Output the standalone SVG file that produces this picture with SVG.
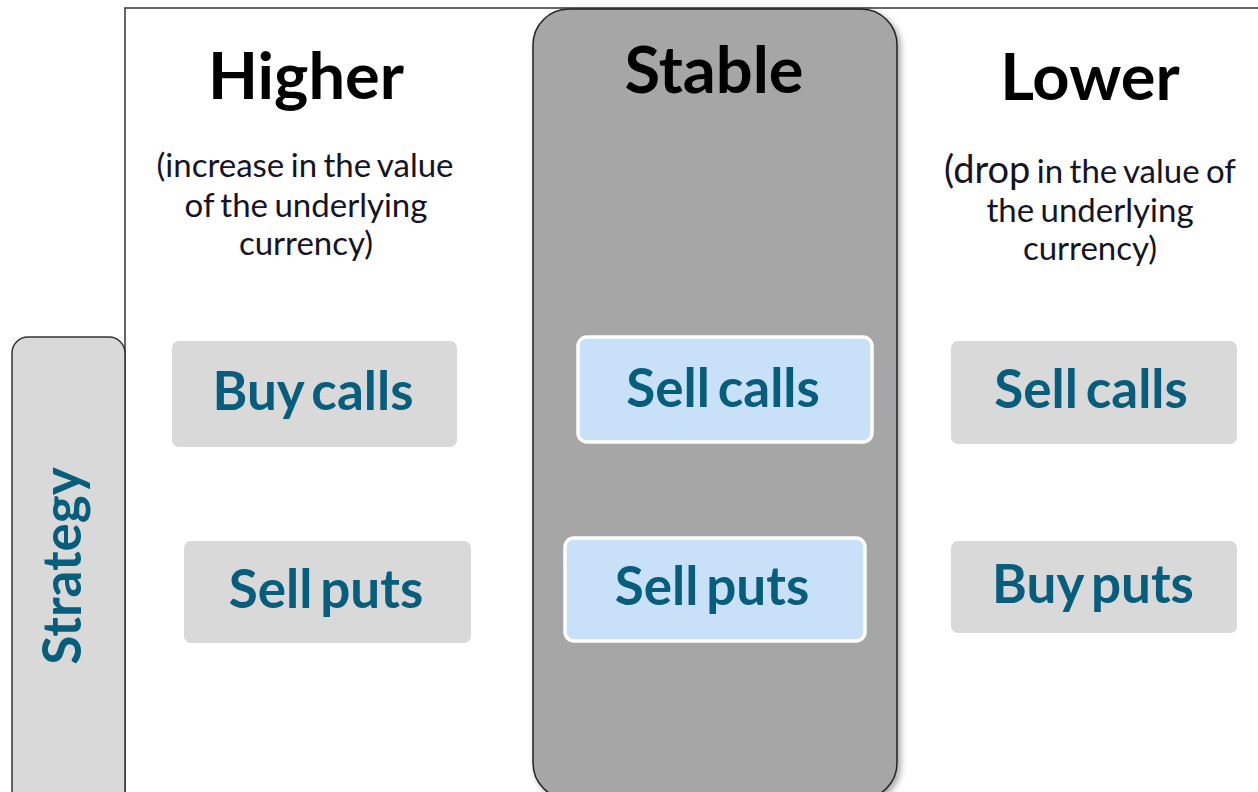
<svg xmlns="http://www.w3.org/2000/svg" width="1258" height="792" viewBox="0 0 1258 792">
  <defs>
    <filter id="soft-shadow" x="-10%" y="-5%" width="125%" height="115%">
      <feGaussianBlur in="SourceAlpha" stdDeviation="3"/>
      <feOffset dx="3" dy="3" result="blur"/>
      <feComponentTransfer><feFuncA type="linear" slope="0.35"/></feComponentTransfer>
      <feMerge><feMergeNode/><feMergeNode in="SourceGraphic"/></feMerge>
    </filter>
  </defs>
  <style>
    .frame { fill: #ffffff; stroke: #333333; stroke-width: 1.5; }
    .side { fill: #d9d9d9; stroke: #333333; stroke-width: 1.5; }
    .band { fill: #a6a6a6; stroke: #222222; stroke-width: 1.5; }
    .chip { fill: #d9d9d9; }
    .chip-hi { fill: #c9e1f8; stroke: #ffffff; stroke-width: 3.5; }
    .head { font-family: Lato, "Open Sans", sans-serif; font-weight: 700; font-size: 65px; fill: #000000; text-anchor: middle; }
    .note { font-family: Lato, "Open Sans", sans-serif; font-size: 33px; fill: #141426; text-anchor: middle; word-spacing: -2px; }
    .label { font-family: Lato, "Open Sans", sans-serif; font-weight: 700; font-size: 53px; fill: #075e7c; text-anchor: middle; word-spacing: -5px; }
  </style>

  <!-- outer frame -->
  <rect class="frame" x="125" y="8" width="1150" height="800"/>

  <!-- Strategy side tab -->
  <g id="strategy">
    <rect class="side" x="12" y="337" width="113" height="470" rx="16" ry="16"/>
    <text class="label" transform="translate(81 566) rotate(-90)" x="0" y="0">Strategy</text>
  </g>

  <!-- Higher column -->
  <g id="higher">
    <text class="head" x="306" y="99">Higher</text>
    <text class="note" x="305" y="177">(increase in the value</text>
    <text class="note" x="306" y="217">of the underlying</text>
    <text class="note" x="306" y="255">currency)</text>
  </g>
  <g id="higher-buy-calls">
    <rect class="chip" x="172" y="341" width="285" height="106" rx="7"/>
    <text class="label" x="313" y="410">Buy calls</text>
  </g>
  <g id="higher-sell-puts">
    <rect class="chip" x="184" y="541" width="287" height="102" rx="7"/>
    <text class="label" x="326" y="608">Sell puts</text>
  </g>

  <!-- Stable column -->
  <g id="stable">
    <rect class="band" x="533" y="9" width="364" height="790" rx="36" ry="36" filter="url(#soft-shadow)"/>
    <text class="head" x="714" y="93">Stable</text>
  </g>
  <g id="stable-sell-calls">
    <rect class="chip-hi" x="578" y="337" width="294" height="105" rx="9"/>
    <text class="label" x="723" y="407">Sell calls</text>
  </g>
  <g id="stable-sell-puts">
    <rect class="chip-hi" x="565" y="538" width="300" height="103" rx="9"/>
    <text class="label" x="712" y="605">Sell puts</text>
  </g>

  <!-- Lower column -->
  <g id="lower">
    <text class="head" x="1090" y="100">Lower</text>
    <text class="note" x="1090" y="183"><tspan font-size="38">(drop</tspan> in the value of</text>
    <text class="note" x="1090" y="222">the underlying</text>
    <text class="note" x="1090" y="260">currency)</text>
  </g>
  <g id="lower-sell-calls">
    <rect class="chip" x="951" y="341" width="286" height="103" rx="7"/>
    <text class="label" x="1091" y="408">Sell calls</text>
  </g>
  <g id="lower-buy-puts">
    <rect class="chip" x="951" y="541" width="286" height="92" rx="7"/>
    <text class="label" x="1093" y="603">Buy puts</text>
  </g>

  <!-- no connectors in this chart -->
  <g id="connectors"/>
</svg>
